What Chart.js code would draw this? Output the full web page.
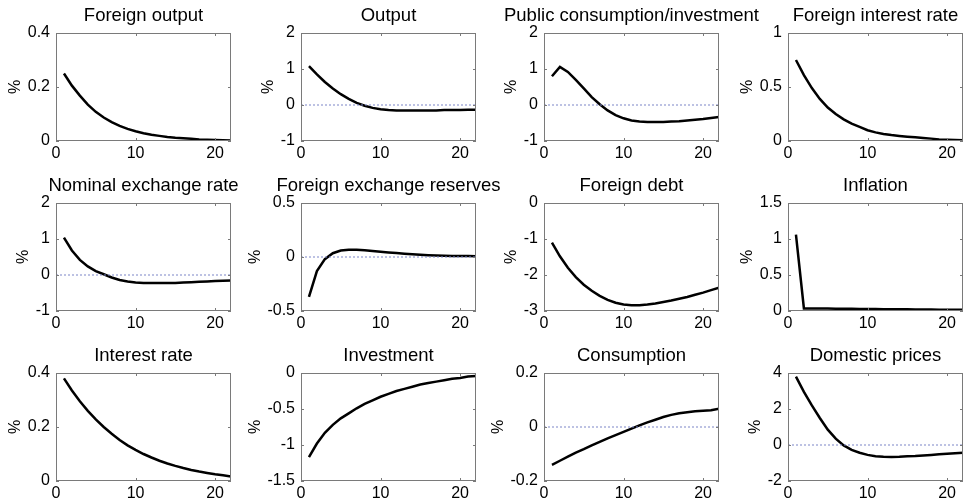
<!DOCTYPE html>
<html>
<head>
<meta charset="utf-8">
<script src="https://cdn.jsdelivr.net/npm/chart.js@4.4.1/dist/chart.umd.min.js"></script>
<style>
  html, body { margin: 0; padding: 0; background: #fff; overflow: hidden; }
  #wrap { position: relative; width: 965px; height: 501px; }
  #wrap canvas { position: absolute; }
</style>
</head>
<body>
<div id="wrap"></div>
<script>
// quarters after the shock
const horizon = [1, 2, 3, 4, 5, 6, 7, 8, 9, 10, 11, 12, 13, 14, 15, 16, 17, 18, 19, 20, 21, 22];

const titles = [
    'Foreign output', 'Output', 'Public consumption/investment', 'Foreign interest rate',
    'Nominal exchange rate', 'Foreign exchange reserves', 'Foreign debt', 'Inflation',
    'Interest rate', 'Investment', 'Consumption', 'Domestic prices'
];

const foreignOutput = [0.25, 0.205, 0.168, 0.135, 0.108, 0.087, 0.07, 0.056, 0.045, 0.036, 0.029, 0.023, 0.019, 0.015, 0.012, 0.01, 0.008, 0.006, 0.005, 0.004, 0.003, 0.002];
const output = [1.08, 0.85, 0.64, 0.46, 0.3, 0.17, 0.06, -0.02, -0.08, -0.12, -0.14, -0.15, -0.15, -0.15, -0.15, -0.15, -0.15, -0.14, -0.14, -0.14, -0.13, -0.13];
const publicSpending = [0.8, 1.06, 0.92, 0.7, 0.46, 0.22, 0.02, -0.15, -0.28, -0.37, -0.43, -0.46, -0.47, -0.47, -0.47, -0.46, -0.45, -0.43, -0.41, -0.39, -0.36, -0.33];
const foreignRate = [0.75, 0.61, 0.49, 0.39, 0.31, 0.25, 0.2, 0.16, 0.13, 0.1, 0.08, 0.065, 0.055, 0.047, 0.04, 0.034, 0.028, 0.022, 0.015, 0.012, 0.01, 0.008];
const exchangeRate = [1.04, 0.68, 0.42, 0.24, 0.11, 0.02, -0.07, -0.14, -0.18, -0.21, -0.22, -0.22, -0.22, -0.22, -0.22, -0.21, -0.2, -0.19, -0.18, -0.17, -0.16, -0.15];
const reserves = [-0.37, -0.13, -0.02, 0.035, 0.06, 0.068, 0.068, 0.062, 0.055, 0.048, 0.042, 0.036, 0.03, 0.025, 0.02, 0.016, 0.013, 0.011, 0.01, 0.01, 0.009, 0.008];
const foreignDebt = [-1.1, -1.48, -1.8, -2.06, -2.27, -2.44, -2.58, -2.69, -2.77, -2.82, -2.84, -2.84, -2.82, -2.79, -2.75, -2.71, -2.66, -2.61, -2.55, -2.49, -2.42, -2.35];
const inflation = [1.06, 0.035, 0.035, 0.034, 0.033, 0.032, 0.031, 0.03, 0.029, 0.028, 0.027, 0.026, 0.025, 0.024, 0.023, 0.022, 0.021, 0.02, 0.019, 0.018, 0.017, 0.016];
const interestRate = [0.38, 0.335, 0.295, 0.26, 0.228, 0.2, 0.175, 0.152, 0.132, 0.115, 0.1, 0.087, 0.075, 0.065, 0.056, 0.048, 0.041, 0.035, 0.03, 0.025, 0.021, 0.017];
const investment = [-1.17, -0.98, -0.83, -0.72, -0.63, -0.56, -0.49, -0.43, -0.38, -0.33, -0.29, -0.25, -0.22, -0.19, -0.16, -0.14, -0.12, -0.1, -0.08, -0.07, -0.05, -0.04];
const consumption = [-0.14, -0.125, -0.11, -0.095, -0.082, -0.068, -0.055, -0.042, -0.03, -0.018, -0.006, 0.006, 0.017, 0.027, 0.037, 0.045, 0.051, 0.055, 0.058, 0.06, 0.062, 0.068];
const domesticPrices = [3.8, 2.95, 2.2, 1.5, 0.85, 0.35, -0.02, -0.27, -0.43, -0.55, -0.62, -0.65, -0.66, -0.65, -0.63, -0.61, -0.58, -0.55, -0.52, -0.49, -0.46, -0.43];

const series = [
    foreignOutput, output, publicSpending, foreignRate,
    exchangeRate, reserves, foreignDebt, inflation,
    interestRate, investment, consumption, domesticPrices
];

// y axis: min, max, step
const yAxes = [
    [0, 0.4, 0.2], [-1, 2, 1], [-1, 2, 1], [0, 1, 0.5],
    [-1, 2, 1], [-0.5, 0.5, 0.5], [-3, 0, 1], [0, 1.5, 0.5],
    [0, 0.4, 0.2], [-1.5, 0, 0.5], [-0.2, 0.2, 0.2], [-2, 4, 2]
];
const xTicks = [0, 10, 20];
const xMax = 22;

const FONT = 'Arial, "Liberation Sans", sans-serif';
const colLeft = [56, 301, 544, 788];
const rowTop = [33, 203, 373];
const plotW = 175, plotH = 108;
const axisW = 56, titleH = 33, xAxisH = 24, rightPad = 60;

// matlab-like labels: 1 instead of 1.0
const fmt = v => String(Number(v.toFixed(3)));

const framePlugin = {
    id: 'frame',
    afterDraw(chart) {
        const { ctx, chartArea: a, scales } = chart;
        ctx.save();
        ctx.strokeStyle = '#7a7a7a';
        ctx.lineWidth = 1;
        ctx.strokeRect(a.left + 0.5, a.top + 0.5, a.width - 1, a.height - 1);
        ctx.beginPath();
        scales.x.ticks.forEach(t => {
            const px = Math.round(scales.x.getPixelForValue(t.value)) + 0.5;
            ctx.moveTo(px, a.bottom); ctx.lineTo(px, a.bottom - 3);
            ctx.moveTo(px, a.top); ctx.lineTo(px, a.top + 3);
        });
        scales.y.ticks.forEach(t => {
            const py = Math.round(scales.y.getPixelForValue(t.value)) + 0.5;
            ctx.moveTo(a.left, py); ctx.lineTo(a.left + 3, py);
            ctx.moveTo(a.right, py); ctx.lineTo(a.right - 3, py);
        });
        ctx.stroke();

        // title centred over the plot box
        ctx.fillStyle = '#000';
        ctx.font = '18.5px ' + FONT;
        ctx.textAlign = 'center';
        ctx.textBaseline = 'alphabetic';
        ctx.fillText(chart.options.plugins.frame.title, (a.left + a.right) / 2, a.top - 12);

        // "%" label left of the tick labels
        ctx.font = '16px ' + FONT;
        const widest = Math.max(...scales.y.ticks.map(t => ctx.measureText(t.label).width));
        ctx.translate(a.left - 6 - widest - 12, (a.top + a.bottom) / 2);
        ctx.rotate(-Math.PI / 2);
        ctx.textBaseline = 'middle';
        ctx.fillText('%', 0, 0);
        ctx.restore();
    }
};

const wrap = document.getElementById('wrap');

series.forEach((values, i) => {
    const col = i % 4, row = Math.floor(i / 4);
    const canvas = document.createElement('canvas');
    canvas.width = axisW + plotW + rightPad;
    canvas.height = titleH + plotH + xAxisH;
    canvas.style.left = (colLeft[col] - axisW) + 'px';
    canvas.style.top = (rowTop[row] - titleH) + 'px';
    wrap.appendChild(canvas);

    const [yMin, yMax, yStep] = yAxes[i];
    new Chart(canvas.getContext('2d'), {
        type: 'line',
        data: {
            datasets: [
                {
                    data: [{ x: 0, y: 0 }, { x: xMax, y: 0 }],
                    borderColor: '#7c86c8',
                    borderWidth: 1,
                    borderDash: [2, 2],
                    pointRadius: 0
                },
                {
                    data: horizon.map((h, k) => ({ x: h, y: values[k] })),
                    borderColor: '#000',
                    borderWidth: 2.5,
                    pointRadius: 0,
                    tension: 0
                }
            ]
        },
        options: {
            responsive: false,
            animation: false,
            devicePixelRatio: 1,
            layout: { padding: { top: titleH, right: rightPad, left: 0, bottom: 0 } },
            plugins: {
                legend: { display: false },
                tooltip: { enabled: false },
                frame: { title: titles[i] }
            },
            scales: {
                x: {
                    type: 'linear',
                    min: 0,
                    max: xMax,
                    afterBuildTicks: s => { s.ticks = xTicks.map(v => ({ value: v })); },
                    afterFit: s => { s.height = xAxisH; },
                    grid: { display: false, drawTicks: false },
                    border: { display: false },
                    ticks: { color: '#000', font: { family: FONT, size: 16 }, padding: 3, maxRotation: 0, callback: fmt }
                },
                y: {
                    min: yMin,
                    max: yMax,
                    afterFit: s => { s.width = axisW; },
                    grid: { display: false, drawTicks: false },
                    border: { display: false },
                    ticks: { stepSize: yStep, color: '#000', font: { family: FONT, size: 16 }, padding: 6, callback: fmt }
                }
            }
        },
        plugins: [framePlugin]
    });
});
</script>
</body>
</html>
